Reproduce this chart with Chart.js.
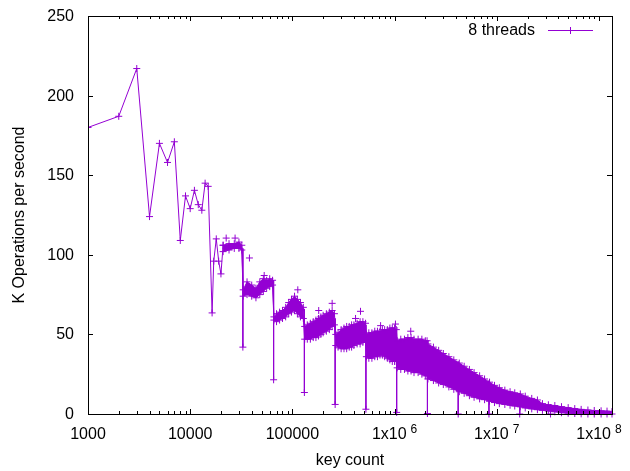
<!DOCTYPE html>
<html>
<head>
<meta charset="utf-8">
<script src="https://cdn.jsdelivr.net/npm/chart.js@4.4.1/dist/chart.umd.min.js"></script>
<style>
  html, body { margin: 0; padding: 0; background: #fff; }
  canvas { display: block; }
</style>
</head>
<body>
<canvas id="opsChart" width="630" height="471"></canvas>
<script>
// start of the run: one point per key, still readable one by one
const mainKeys = [1000, 2000, 3000, 4000, 5000, 6000, 7000, 8000, 9000, 10000,
  11000, 12000, 13000, 14000, 15000, 16384, 17000, 18000, 19000, 20000, 21000];
const mainOps = [180, 187, 217, 124, 170, 158, 171, 109, 137, 129,
  140.5, 131.5, 128, 145, 143, 63.5, 96, 110, 96, 88, 106];

// further right the points merge into a band: its upper and lower edge
const bandKeys = [21000, 24000, 27000, 30000, 32000,
  33000, 36000, 40000, 44000, 48000, 52000, 56000, 60000, 64000,
  66000, 70000, 75000, 80000, 86000, 92000, 98000, 105000, 112000, 120000, 128000,
  132000, 140000, 150000, 160000, 170000, 180000, 190000, 200000, 215000, 230000, 245000, 258000,
  266000, 280000, 300000, 320000, 340000, 360000, 380000, 400000, 430000, 460000, 490000, 520000,
  530000, 560000, 600000, 640000, 680000, 720000, 760000, 800000, 850000, 900000, 950000, 1000000, 1040000,
  1060000, 1150000, 1250000, 1350000, 1450000, 1550000, 1700000, 1850000, 2000000, 2080000,
  2120000, 2400000, 2700000, 3000000, 3400000, 3800000, 4300000, 4800000, 5400000, 6000000,
  6800000, 7600000, 8500000, 9500000, 10600000, 12000000, 13500000, 15000000, 17000000, 19000000,
  22000000, 25000000, 28000000, 32000000, 37000000, 43000000, 50000000, 58000000, 67000000,
  78000000, 90000000, 105000000, 120000000, 134217728];
const bandTop = [106, 107, 107, 108, 106,
  78, 83, 81, 79, 83, 85, 84, 85, 84,
  61, 63, 64, 65, 67, 70, 72, 74, 72, 70, 67,
  55, 56, 57, 58, 59, 60, 61, 62, 63, 64, 65, 63,
  50, 51, 53, 54, 55, 55, 56, 56, 57, 58, 58, 57,
  50, 51, 51, 52, 52, 52, 53, 53, 53, 54, 54, 54, 53,
  46, 47, 47, 48, 48, 47, 47, 47, 46, 46,
  44, 42, 40, 38, 36, 34, 32, 30, 28, 26,
  24, 22, 20, 18, 16.5, 15, 14, 13.3, 12.6, 11.2,
  9.8, 8.8, 6.5, 5.8, 5.3, 4.6, 4, 3.4, 2.9,
  2.5, 2.2, 2, 1.8, 1.5];
const bandBottom = [102, 103, 104, 104, 103,
  74, 75, 74, 73, 75, 77, 79, 80, 81,
  59, 58, 59, 60, 61, 63, 64, 65, 63, 61, 60,
  47, 47, 47, 48, 48, 49, 50, 51, 52, 53, 55, 56,
  43, 42, 41, 41, 41, 42, 42, 43, 44, 44, 45, 45,
  36, 35, 35, 36, 36, 37, 37, 36, 35, 34, 33, 33, 33,
  29, 28, 28, 27, 27, 26, 26, 25, 24, 24,
  22, 21, 19.5, 18.5, 17, 15.5, 14, 13, 11.5, 10.5,
  9.5, 9, 8, 7.2, 6.5, 6, 5.5, 5, 4.5, 3.8,
  3.2, 2.7, 2.3, 1.9, 1.4, 0.8, 0.5, 0.3, 0.1,
  0, 0, 0, 0, 0];

// the drops at the powers of two
const dipKeys = [32768, 65536, 131072, 262144, 524288, 1048576, 2097152,
  4194304, 8388608, 16777216, 33554432];
const dipFrom = [104, 84, 66, 60, 56, 53, 45, 33, 21, 13, 6];
const dipTo = [42, 21.5, 13.5, 6, 3, 1, 0.3, 0, 0, 0, 0];

// single crosses that stand above the band
const strayKeys = [22500, 27500, 38000, 53000, 113000, 181000, 245000, 415000,
  464000, 730000, 1020000, 1440000];
const strayOps = [110.5, 110.5, 98, 87, 78, 65, 69.5, 60, 64.5, 55.5, 56.5, 52];

const xTicks = [1000, 10000, 100000, 1000000, 10000000, 100000000];
const xTickText = ["1000", "10000", "100000", "1x10^6", "1x10^7", "1x10^8"];
const yTicks = [0, 50, 100, 150, 200, 250];

const purple = "#9400d3";
const fontFamily = '"Liberation Sans", Arial, sans-serif';

const toPoints = (keys, vals) => keys.map((k, i) => ({ x: k, y: vals[i] }));

const dipPoints = [];
dipKeys.forEach((k, i) => {
  dipPoints.push({ x: k, y: dipFrom[i] }, { x: k, y: dipTo[i] }, { x: k, y: null });
});

const cross = {
  pointStyle: "cross",
  pointRadius: 3.5,
  pointHoverRadius: 3.5,
  pointBorderWidth: 1,
  pointBorderColor: purple
};

// gnuplot style frame: inward ticks on all four sides, tick labels, key inside
const gnuplotFrame = {
  id: "gnuplotFrame",
  afterDraw(chart) {
    const { ctx, chartArea: a, scales: { x, y } } = chart;
    ctx.save();
    ctx.strokeStyle = "#000";
    ctx.lineWidth = 1;
    ctx.strokeRect(Math.round(a.left) + 0.5, Math.round(a.top) + 0.5,
      Math.round(a.right - a.left), Math.round(a.bottom - a.top));

    ctx.beginPath();
    yTicks.forEach(v => {
      const py = Math.round(y.getPixelForValue(v)) + 0.5;
      ctx.moveTo(a.left, py); ctx.lineTo(a.left + 5, py);
      ctx.moveTo(a.right, py); ctx.lineTo(a.right - 5, py);
    });
    for (let e = 3; e <= 8; e++) {
      for (let m = 1; m <= 9; m++) {
        const v = m * Math.pow(10, e);
        if (v > x.max) break;
        const px = Math.round(x.getPixelForValue(v)) + 0.5;
        const len = m === 1 ? 5 : 3;
        ctx.moveTo(px, a.bottom); ctx.lineTo(px, a.bottom - len);
        ctx.moveTo(px, a.top); ctx.lineTo(px, a.top + len);
      }
    }
    ctx.stroke();

    ctx.fillStyle = "#000";
    ctx.font = "16px " + fontFamily;
    ctx.textAlign = "right";
    ctx.textBaseline = "middle";
    yTicks.forEach(v => {
      ctx.fillText(String(v), a.left - 14, y.getPixelForValue(v) + 0.5);
    });

    // x tick labels, "1x10^6" gets a raised exponent
    ctx.textAlign = "left";
    ctx.textBaseline = "alphabetic";
    xTicks.forEach((v, i) => {
      const [base, exp] = xTickText[i].split("^");
      ctx.font = "16px " + fontFamily;
      const wb = ctx.measureText(base).width;
      let we = 0;
      if (exp) {
        ctx.font = "12px " + fontFamily;
        we = ctx.measureText(exp).width + 4;
      }
      const left = x.getPixelForValue(v) - (wb + we) / 2;
      ctx.font = "16px " + fontFamily;
      ctx.fillText(base, left, a.bottom + 25);
      if (exp) {
        ctx.font = "12px " + fontFamily;
        ctx.fillText(exp, left + wb + 4, a.bottom + 19);
      }
    });

    // key
    const ky = a.top + 14.5;
    ctx.font = "16px " + fontFamily;
    ctx.textAlign = "right";
    ctx.textBaseline = "middle";
    ctx.fillText(chart.data.datasets[0].label, a.right - 77, ky);
    ctx.strokeStyle = purple;
    ctx.beginPath();
    ctx.moveTo(a.right - 64, ky); ctx.lineTo(a.right - 19, ky);
    ctx.moveTo(a.right - 41.5, ky - 3.5); ctx.lineTo(a.right - 41.5, ky + 3.5);
    ctx.stroke();
    ctx.restore();
  }
};

new Chart(document.getElementById("opsChart"), {
  type: "line",
  data: {
    datasets: [
      {
        label: "8 threads",
        data: toPoints(mainKeys, mainOps),
        borderColor: purple,
        borderWidth: 1,
        fill: false,
        ...cross
      },
      {
        label: "band top",
        data: toPoints(bandKeys, bandTop),
        borderColor: purple,
        backgroundColor: purple,
        borderWidth: 1,
        fill: "+1",
        ...cross
      },
      {
        label: "band bottom",
        data: toPoints(bandKeys, bandBottom),
        borderColor: purple,
        borderWidth: 1,
        fill: false,
        clip: 4,
        ...cross
      },
      {
        label: "dips",
        data: dipPoints,
        borderColor: purple,
        borderWidth: 1,
        fill: false,
        spanGaps: false,
        clip: false,
        pointStyle: "cross",
        pointBorderColor: purple,
        pointBorderWidth: 1,
        pointRadius: c => (c.index % 3 === 1 ? 3.5 : 0),
        pointHoverRadius: c => (c.index % 3 === 1 ? 3.5 : 0)
      },
      {
        label: "strays",
        data: toPoints(strayKeys, strayOps),
        showLine: false,
        fill: false,
        ...cross
      }
    ]
  },
  options: {
    responsive: false,
    animation: false,
    devicePixelRatio: 1,
    layout: { padding: { left: 0, right: 18, top: 16, bottom: 0 } },
    plugins: {
      legend: { display: false },
      tooltip: { enabled: false }
    },
    scales: {
      x: {
        type: "logarithmic",
        min: 1000,
        max: 134217728,
        grid: { display: false, drawTicks: false },
        border: { display: false },
        ticks: { display: false },
        title: {
          display: true,
          text: "key count",
          color: "#000",
          font: { size: 16, family: fontFamily },
          padding: { top: 0, bottom: 1 }
        },
        afterFit: s => { s.height = 57; }
      },
      y: {
        min: 0,
        max: 250,
        grid: { display: false, drawTicks: false },
        border: { display: false },
        ticks: { display: false },
        title: {
          display: true,
          text: "K Operations per second",
          color: "#000",
          font: { size: 16, family: fontFamily },
          padding: { top: 10, bottom: 0 }
        },
        afterFit: s => { s.width = 88; }
      }
    }
  },
  plugins: [gnuplotFrame]
});
</script>
</body>
</html>
